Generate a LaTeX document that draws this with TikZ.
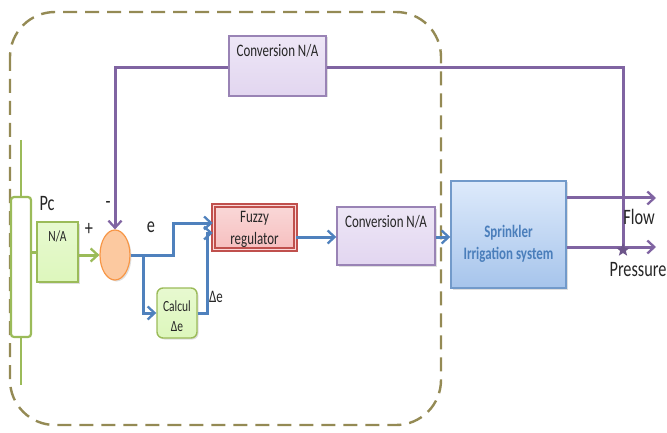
\documentclass[tikz,border=0pt]{standalone}
\usepackage{fontspec}
\setmainfont{Carlito}[FakeStretch=0.74]
\usetikzlibrary{arrows.meta,shadows,shapes.geometric}
\definecolor{grnB}{HTML}{9BBB59}
\definecolor{grnF}{HTML}{DDF7BC}
\definecolor{purB}{HTML}{8064A2}
\definecolor{purF}{HTML}{E2D6F0}
\definecolor{bluL}{HTML}{4F81BD}
\definecolor{bluF}{HTML}{BCD5F7}
\definecolor{bluT}{HTML}{4A7EBB}
\definecolor{redB}{HTML}{C0504D}
\definecolor{redF}{HTML}{F6BEBE}
\definecolor{orgB}{HTML}{F79646}
\definecolor{orgF}{HTML}{FCC9A0}
\definecolor{oliv}{HTML}{948A54}
\tikzset{
  sh/.style={drop shadow={shadow xshift=1.5pt,shadow yshift=-1.5pt,opacity=0.25}},
  greenbox/.style={draw=grnB, line width=1.4pt, top color=grnF!70!white, bottom color=grnF, sh},
  purplebox/.style={draw=purB!80, line width=1.4pt, top color=purF!60!white, bottom color=purF, sh},
  fuzzybox/.style={draw=redB, line width=1.5pt, double=redF!60!white, double distance=1.3pt, top color=redF!60!white, bottom color=redF, sh},
  sprbox/.style={draw=bluL!80, line width=1.4pt, top color=bluF!50!white, bottom color=bluF!80!bluL, sh},
  wire/.style={line width=3pt, draw=#1, -{Straight Barb[length=7pt,width=13pt,line width=2.3pt]}},
  plain/.style={line width=3pt, draw=#1},
  lbl/.style={font=\fontsize{17.5}{19}\selectfont, text=black!85},
  mid/.style={font=\fontsize{15.5}{17}\selectfont, text=black!85},
  big/.style={font=\fontsize{22}{24}\selectfont, text=black!85},
}
\begin{document}
\begin{tikzpicture}[x=1pt,y=-1pt]
\useasboundingbox (0,0) rectangle (667,433);
% dashed frame
\draw[oliv, line width=2.4pt, dash pattern=on 14pt off 8pt, rounded corners=45pt] (10,12) rectangle (441,425);
% green input bar
\draw[grnB, line width=2.2pt] (21,140) -- (21,385);
\node[draw=grnB, line width=2.2pt, fill=white, rounded corners=3pt, minimum width=20pt, minimum height=140pt, inner sep=0pt] (bar) at (21,267) {};
% blocks
\node[greenbox, minimum width=41pt, minimum height=60pt, inner sep=0pt, label={[mid,anchor=north,yshift=-6pt]north:N/A}] (na) at (57.5,252) {};
\node[draw=orgB, line width=1.2pt, fill=orgF, ellipse, minimum width=30pt, minimum height=50pt, inner sep=0pt, sh] (sum) at (115,255) {};
\node[fuzzybox, minimum width=82pt, minimum height=44pt, inner sep=0pt, label={[lbl, align=center, yshift=-2pt]center:Fuzzy\\[3pt]regulator}] (fz) at (254.5,227.5) {};
\node[greenbox, rounded corners=6pt, minimum width=40pt, minimum height=50pt, inner sep=0pt, label={[mid, align=center, yshift=-3pt]center:Calcul\\[3pt]Δe}] (cal) at (177,313) {};
\node[purplebox, minimum width=97pt, minimum height=60pt, inner sep=0pt, label={[lbl,anchor=north,yshift=-6pt]north:Conversion N/A}] (cv1) at (277.5,66) {};
\node[purplebox, minimum width=98pt, minimum height=58pt, inner sep=0pt, label={[lbl,anchor=north,yshift=-6pt]north:Conversion N/A}] (cv2) at (386,236) {};
\node[sprbox, minimum width=115pt, minimum height=107pt, inner sep=0pt, label={[align=center, text=bluT, font=\fontsize{17.5}{19}\selectfont\bfseries, yshift=-9pt]center:Sprinkler\\[3pt]Irrigation system}] (spr) at (508.5,234.5) {};
% coordinates
\coordinate (fbr) at (623,68);
\coordinate (fbl) at (115,68);
\coordinate (star) at (623,250);
\coordinate (flowend) at (656,198);
\coordinate (presend) at (656,247);
\coordinate (br) at (143,255);
% feedback loop
\draw[plain=purB] (star) -- (fbr) -- (cv1.east |- fbr);
\draw[wire=purB] (cv1.west |- fbl) -- (fbl) -- (sum.north);
% outputs
\draw[wire=purB] (spr.east |- flowend) -- (flowend);
\draw[wire=purB] (spr.east |- presend) -- (presend);
\node[star, star points=5, star point ratio=2.3, fill=purB!85!black, draw=none, inner sep=0pt, minimum size=14pt] (stm) at (star) {};
% input path
\draw[plain=grnB] (bar.east |- na) -- (na.west);
\draw[wire=grnB] (na.east |- sum) -- (sum.west);
% error paths
\draw[wire=bluL] (sum.east) -- (173,255) -- (173,223) -- (fz.west |- 0,223);
\draw[wire=bluL] (br) -- (br |- cal.west) -- (cal.west);
\draw[wire=bluL] (cal.east) -- (207,313) -- (207,233) -- (fz.west |- 0,233);
\draw[wire=bluL] (fz.east |- 0,237) -- (cv2.west |- 0,237);
\draw[wire=bluL] (cv2.east |- 0,237) -- (spr.west |- 0,237);
% labels
\node[big] (pc) at (47,204) {Pc};
\node[big] (plus) at (89,229) {+};
\node[big] (minus) at (108,205) {-};
\node[big] (e) at (151,227) {e};
\node[lbl] (de) at (216,297) {Δe};
\node[big] (flow) at (639,217) {Flow};
\node[big] (pres) at (638,270) {Pressure};
\end{tikzpicture}
\end{document}
